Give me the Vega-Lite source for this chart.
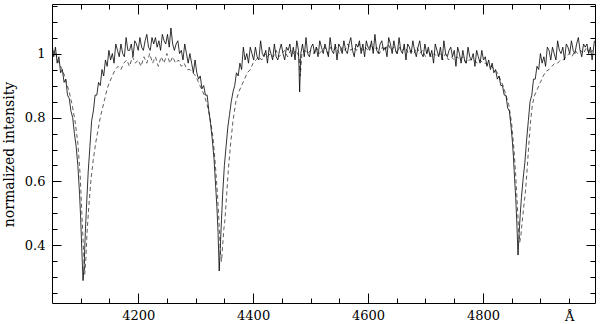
{
  "$schema": "https://vega.github.io/schema/vega-lite/v6.json",
  "width": 543,
  "height": 299,
  "autosize": "none",
  "padding": {"left": 52, "top": 4, "right": 5, "bottom": 21},
  "background": "white",
  "config": {
    "view": {"stroke": "black", "strokeWidth": 1},
    "axis": {"grid": false, "domain": false, "tickColor": "black", "tickWidth": 1, "labelColor": "black", "labelFont": "DejaVu Serif", "labelFontSize": 13, "titleFont": "DejaVu Serif", "titleFontWeight": "normal", "titleColor": "black"}
  },
  "resolve": {"axis": {"x": "independent", "y": "independent"}},
  "layer": [
    {
      "data": {"values": [
{"w":4050,"f":1.00},{"w":4055,"f":1.01},{"w":4060,"f":0.98},{"w":4065,"f":0.96},{"w":4070,"f":0.94},{"w":4075,"f":0.91},{"w":4080,"f":0.88},{"w":4085,"f":0.84},{"w":4090,"f":0.79},{"w":4095,"f":0.72},{"w":4099,"f":0.62},{"w":4102,"f":0.50},{"w":4105,"f":0.38},{"w":4107,"f":0.31},{"w":4109,"f":0.36},{"w":4111,"f":0.44},{"w":4114,"f":0.52},{"w":4118,"f":0.61},{"w":4122,"f":0.67},{"w":4126,"f":0.72},{"w":4130,"f":0.76},{"w":4134,"f":0.80},{"w":4138,"f":0.83},{"w":4142,"f":0.86},{"w":4146,"f":0.89},{"w":4150,"f":0.91},{"w":4155,"f":0.93},{"w":4160,"f":0.95},{"w":4165,"f":0.96},{"w":4170,"f":0.95},{"w":4175,"f":0.97},{"w":4180,"f":0.98},{"w":4185,"f":0.96},{"w":4190,"f":0.99},{"w":4195,"f":0.97},{"w":4200,"f":0.98},{"w":4205,"f":0.96},{"w":4210,"f":0.99},{"w":4215,"f":0.97},{"w":4220,"f":1.00},{"w":4225,"f":0.97},{"w":4230,"f":0.99},{"w":4235,"f":0.96},{"w":4240,"f":0.99},{"w":4245,"f":0.97},{"w":4250,"f":1.00},{"w":4255,"f":0.97},{"w":4260,"f":0.99},{"w":4265,"f":0.97},{"w":4270,"f":0.98},{"w":4275,"f":0.96},{"w":4280,"f":0.97},{"w":4285,"f":0.95},{"w":4290,"f":0.95},{"w":4295,"f":0.94},{"w":4300,"f":0.93},{"w":4305,"f":0.91},{"w":4310,"f":0.89},{"w":4315,"f":0.87},{"w":4320,"f":0.84},{"w":4325,"f":0.80},{"w":4330,"f":0.74},{"w":4334,"f":0.66},{"w":4338,"f":0.56},{"w":4341,"f":0.46},{"w":4343,"f":0.38},{"w":4345,"f":0.35},{"w":4347,"f":0.40},{"w":4349,"f":0.45},{"w":4351,"f":0.48},{"w":4354,"f":0.56},{"w":4357,"f":0.64},{"w":4361,"f":0.72},{"w":4365,"f":0.79},{"w":4370,"f":0.85},{"w":4375,"f":0.88},{"w":4380,"f":0.90},{"w":4385,"f":0.92},{"w":4390,"f":0.94},{"w":4395,"f":0.95},{"w":4400,"f":0.97},{"w":4405,"f":0.98},{"w":4410,"f":0.99},{"w":4415,"f":0.98},{"w":4420,"f":1.00},{"w":4425,"f":0.99},{"w":4430,"f":1.00},{"w":4435,"f":0.99},{"w":4440,"f":1.01},{"w":4445,"f":0.99},{"w":4450,"f":1.00},{"w":4455,"f":1.01},{"w":4460,"f":0.99},{"w":4465,"f":1.01},{"w":4470,"f":1.00},{"w":4475,"f":1.01},{"w":4480,"f":0.99},{"w":4482,"f":0.93},{"w":4485,"f":1.00},{"w":4490,"f":1.01},{"w":4495,"f":1.00},{"w":4500,"f":1.01},{"w":4505,"f":1.00},{"w":4510,"f":1.02},{"w":4515,"f":1.00},{"w":4520,"f":1.01},{"w":4525,"f":1.02},{"w":4530,"f":1.00},{"w":4535,"f":1.02},{"w":4540,"f":1.01},{"w":4545,"f":1.02},{"w":4550,"f":1.00},{"w":4555,"f":1.02},{"w":4560,"f":1.01},{"w":4565,"f":1.03},{"w":4570,"f":1.01},{"w":4575,"f":1.02},{"w":4580,"f":1.01},{"w":4585,"f":1.03},{"w":4590,"f":1.01},{"w":4595,"f":1.02},{"w":4600,"f":1.01},{"w":4605,"f":1.03},{"w":4610,"f":1.01},{"w":4615,"f":1.02},{"w":4620,"f":1.00},{"w":4625,"f":1.02},{"w":4630,"f":1.01},{"w":4635,"f":1.03},{"w":4640,"f":1.01},{"w":4645,"f":1.02},{"w":4650,"f":1.00},{"w":4655,"f":1.02},{"w":4660,"f":1.01},{"w":4665,"f":1.02},{"w":4670,"f":1.00},{"w":4675,"f":1.01},{"w":4680,"f":1.00},{"w":4685,"f":1.02},{"w":4690,"f":1.00},{"w":4695,"f":1.01},{"w":4700,"f":0.99},{"w":4705,"f":1.01},{"w":4710,"f":0.99},{"w":4715,"f":1.00},{"w":4720,"f":0.99},{"w":4725,"f":1.00},{"w":4730,"f":0.98},{"w":4735,"f":1.00},{"w":4740,"f":0.98},{"w":4745,"f":0.99},{"w":4750,"f":0.98},{"w":4755,"f":0.99},{"w":4760,"f":0.98},{"w":4765,"f":0.99},{"w":4770,"f":0.97},{"w":4775,"f":0.98},{"w":4780,"f":0.98},{"w":4785,"f":0.98},{"w":4790,"f":0.97},{"w":4795,"f":0.98},{"w":4800,"f":0.97},{"w":4805,"f":0.97},{"w":4810,"f":0.96},{"w":4815,"f":0.96},{"w":4820,"f":0.95},{"w":4825,"f":0.94},{"w":4830,"f":0.92},{"w":4835,"f":0.90},{"w":4840,"f":0.87},{"w":4845,"f":0.84},{"w":4850,"f":0.78},{"w":4854,"f":0.70},{"w":4857,"f":0.62},{"w":4860,"f":0.52},{"w":4862,"f":0.45},{"w":4864,"f":0.41},{"w":4866,"f":0.43},{"w":4868,"f":0.47},{"w":4871,"f":0.52},{"w":4874,"f":0.57},{"w":4877,"f":0.64},{"w":4880,"f":0.72},{"w":4883,"f":0.79},{"w":4886,"f":0.84},{"w":4890,"f":0.87},{"w":4895,"f":0.89},{"w":4900,"f":0.91},{"w":4905,"f":0.93},{"w":4910,"f":0.945},{"w":4915,"f":0.95},{"w":4920,"f":0.96},{"w":4925,"f":0.97},{"w":4930,"f":0.97},{"w":4935,"f":0.98},{"w":4940,"f":0.98},{"w":4945,"f":0.99},{"w":4950,"f":1.00},{"w":4955,"f":0.99},{"w":4960,"f":1.01},{"w":4965,"f":1.00},{"w":4970,"f":1.01},{"w":4975,"f":1.00},{"w":4980,"f":1.02},{"w":4985,"f":1.00},{"w":4990,"f":1.01},{"w":4994,"f":1.00}
      ]},
      "mark": {"type": "line", "color": "#333333", "strokeWidth": 0.8, "strokeDash": [4, 3], "clip": true},
      "encoding": {
        "x": {"field": "w", "type": "quantitative", "scale": {"domain": [4050, 4995], "nice": false, "zero": false},
          "axis": {"orient": "top", "title": null, "values": [4100,4150,4200,4250,4300,4350,4400,4450,4500,4550,4600,4650,4700,4750,4800,4850,4900,4950], "labels": false,
            "tickSize": {"condition": {"test": "datum.value % 200 == 0", "value": -10}, "value": -5}}},
        "y": {"field": "f", "type": "quantitative", "scale": {"domain": [0.22, 1.155], "nice": false, "zero": false},
          "axis": {"orient": "right", "title": null, "values": [0.25,0.3,0.35,0.4,0.45,0.5,0.55,0.6,0.65,0.7,0.75,0.8,0.85,0.9,0.95,1,1.05,1.1,1.15], "labels": false,
            "tickSize": {"condition": {"test": "indexof([0.4,0.6,0.8,1],datum.value) >= 0", "value": -9}, "value": -5}}}
      }
    },
    {
      "data": {"values": [
{"w":4050,"f":1.03},{"w":4053,"f":0.99},{"w":4056,"f":1.02},{"w":4059,"f":0.97},{"w":4062,"f":0.99},{"w":4065,"f":0.94},{"w":4068,"f":0.95},{"w":4071,"f":0.91},{"w":4074,"f":0.92},{"w":4077,"f":0.87},{"w":4080,"f":0.86},{"w":4083,"f":0.82},{"w":4086,"f":0.80},{"w":4089,"f":0.75},{"w":4092,"f":0.71},{"w":4095,"f":0.65},{"w":4098,"f":0.56},{"w":4100,"f":0.48},{"w":4102,"f":0.38},{"w":4104,"f":0.29},{"w":4106,"f":0.34},{"w":4108,"f":0.44},{"w":4110,"f":0.52},{"w":4113,"f":0.63},{"w":4116,"f":0.71},{"w":4119,"f":0.79},{"w":4122,"f":0.82},{"w":4125,"f":0.87},{"w":4128,"f":0.87},{"w":4131,"f":0.91},{"w":4134,"f":0.90},{"w":4137,"f":0.95},{"w":4140,"f":0.93},{"w":4143,"f":0.98},{"w":4146,"f":0.96},
{"w":4149,"f":1.01},{"w":4152,"f":0.98},{"w":4155,"f":1.00},{"w":4158,"f":0.97},{"w":4161,"f":1.03},{"w":4164,"f":1.01},{"w":4167,"f":0.99},{"w":4170,"f":1.03},{"w":4173,"f":1.00},{"w":4176,"f":0.99},{"w":4179,"f":1.05},{"w":4182,"f":1.01},{"w":4185,"f":1.01},{"w":4188,"f":1.03},{"w":4191,"f":0.99},{"w":4194,"f":1.04},{"w":4197,"f":1.03},{"w":4200,"f":1.01},{"w":4203,"f":1.05},{"w":4206,"f":1.02},{"w":4209,"f":1.01},{"w":4212,"f":1.04},{"w":4215,"f":1.06},{"w":4218,"f":1.02},{"w":4221,"f":1.01},{"w":4224,"f":1.05},{"w":4227,"f":1.03},{"w":4230,"f":1.05},{"w":4233,"f":1.02},{"w":4236,"f":1.04},{"w":4239,"f":1.01},{"w":4242,"f":1.06},{"w":4245,"f":1.04},{"w":4248,"f":1.03},{"w":4251,"f":1.06},{"w":4254,"f":1.02},{"w":4257,"f":1.08},{"w":4260,"f":1.03},{"w":4263,"f":1.01},{"w":4266,"f":1.03},{"w":4269,"f":1.04},{"w":4272,"f":1.00},{"w":4275,"f":1.01},{"w":4278,"f":0.98},{"w":4281,"f":1.03},{"w":4284,"f":1.00},{"w":4287,"f":0.97},{"w":4290,"f":1.00},{"w":4293,"f":0.97},{"w":4296,"f":0.94},{"w":4299,"f":0.98},{"w":4302,"f":0.94},{"w":4305,"f":0.92},{"w":4308,"f":0.93},{"w":4311,"f":0.89},{"w":4314,"f":0.90},{"w":4317,"f":0.87},{"w":4320,"f":0.87},
{"w":4323,"f":0.82},{"w":4326,"f":0.78},{"w":4329,"f":0.73},{"w":4332,"f":0.67},{"w":4335,"f":0.58},{"w":4337,"f":0.52},{"w":4339,"f":0.44},{"w":4341,"f":0.32},{"w":4343,"f":0.40},{"w":4345,"f":0.48},{"w":4347,"f":0.56},{"w":4350,"f":0.65},{"w":4353,"f":0.71},{"w":4356,"f":0.77},{"w":4359,"f":0.81},{"w":4362,"f":0.85},{"w":4365,"f":0.88},{"w":4368,"f":0.90},{"w":4371,"f":0.94},{"w":4374,"f":0.93},{"w":4377,"f":0.97},{"w":4380,"f":0.95},
{"w":4383,"f":1.02},{"w":4386,"f":0.98},{"w":4389,"f":1.00},{"w":4392,"f":0.97},{"w":4395,"f":1.02},{"w":4398,"f":1.00},{"w":4401,"f":0.98},{"w":4404,"f":1.02},{"w":4407,"f":0.99},{"w":4410,"f":0.98},{"w":4413,"f":1.04},{"w":4416,"f":1.00},{"w":4419,"f":0.99},{"w":4422,"f":1.01},{"w":4425,"f":0.97},{"w":4428,"f":1.02},{"w":4431,"f":1.00},{"w":4434,"f":0.98},{"w":4437,"f":1.03},{"w":4440,"f":0.99},{"w":4443,"f":0.98},{"w":4446,"f":1.01},{"w":4449,"f":1.03},{"w":4452,"f":1.00},{"w":4455,"f":0.98},{"w":4458,"f":1.02},{"w":4461,"f":1.01},{"w":4464,"f":1.03},{"w":4467,"f":0.99},{"w":4470,"f":1.02},{"w":4473,"f":0.98},{"w":4476,"f":1.04},{"w":4479,"f":1.01},{"w":4481,"f":0.88},{"w":4483,"f":1.00},{"w":4486,"f":1.03},{"w":4489,"f":0.99},{"w":4492,"f":1.05},{"w":4495,"f":1.00},{"w":4498,"f":0.99},{"w":4501,"f":1.02},
{"w":4504,"f":1.03},{"w":4507,"f":1.00},{"w":4510,"f":1.02},{"w":4513,"f":0.99},{"w":4516,"f":1.04},{"w":4519,"f":1.02},{"w":4522,"f":1.00},{"w":4525,"f":1.03},{"w":4528,"f":1.01},{"w":4531,"f":0.99},{"w":4534,"f":1.05},{"w":4537,"f":1.01},{"w":4540,"f":1.00},{"w":4543,"f":1.03},{"w":4546,"f":0.98},{"w":4549,"f":1.03},{"w":4552,"f":1.02},{"w":4555,"f":1.00},{"w":4558,"f":1.04},{"w":4561,"f":1.01},{"w":4564,"f":1.00},{"w":4567,"f":1.03},{"w":4570,"f":1.05},{"w":4573,"f":1.01},{"w":4576,"f":0.99},{"w":4579,"f":1.03},{"w":4582,"f":1.02},{"w":4585,"f":1.04},{"w":4588,"f":1.00},{"w":4591,"f":1.03},{"w":4594,"f":0.99},{"w":4597,"f":1.04},{"w":4600,"f":1.02},{"w":4603,"f":1.01},{"w":4606,"f":1.04},{"w":4609,"f":1.00},{"w":4612,"f":1.06},{"w":4615,"f":1.01},{"w":4618,"f":1.00},{"w":4621,"f":1.03},{"w":4624,"f":1.04},{"w":4627,"f":1.01},{"w":4630,"f":1.02},{"w":4633,"f":0.99},{"w":4636,"f":1.05},{"w":4639,"f":1.03},{"w":4642,"f":1.00},{"w":4645,"f":1.04},{"w":4648,"f":1.01},{"w":4651,"f":1.00},
{"w":4654,"f":1.05},{"w":4657,"f":1.01},{"w":4660,"f":1.00},{"w":4663,"f":1.03},{"w":4666,"f":0.98},{"w":4669,"f":1.03},{"w":4672,"f":1.02},{"w":4675,"f":1.00},{"w":4678,"f":1.04},{"w":4681,"f":1.01},{"w":4684,"f":0.99},{"w":4687,"f":1.02},{"w":4690,"f":1.04},{"w":4693,"f":1.00},{"w":4696,"f":0.99},{"w":4699,"f":1.03},{"w":4702,"f":1.00},{"w":4705,"f":1.02},{"w":4708,"f":0.99},{"w":4711,"f":1.01},{"w":4714,"f":0.97},{"w":4717,"f":1.03},{"w":4720,"f":1.01},{"w":4723,"f":0.99},{"w":4726,"f":1.02},{"w":4729,"f":0.98},{"w":4732,"f":1.04},{"w":4735,"f":1.00},{"w":4738,"f":0.99},{"w":4741,"f":1.01},{"w":4744,"f":1.02},{"w":4747,"f":0.99},{"w":4750,"f":1.01},{"w":4753,"f":0.96},{"w":4756,"f":1.02},{"w":4759,"f":1.00},{"w":4762,"f":0.97},{"w":4765,"f":1.01},{"w":4768,"f":0.98},{"w":4771,"f":0.97},{"w":4774,"f":1.02},{"w":4777,"f":0.99},{"w":4780,"f":0.98},{"w":4783,"f":1.00},{"w":4786,"f":0.96},{"w":4789,"f":1.01},{"w":4792,"f":0.99},{"w":4795,"f":0.97},{"w":4798,"f":1.01},{"w":4801,"f":0.98},
{"w":4804,"f":0.99},{"w":4807,"f":0.96},{"w":4810,"f":0.98},{"w":4813,"f":0.95},{"w":4816,"f":0.97},{"w":4819,"f":0.94},{"w":4822,"f":0.95},{"w":4825,"f":0.92},{"w":4828,"f":0.93},{"w":4831,"f":0.90},{"w":4834,"f":0.90},{"w":4837,"f":0.87},{"w":4840,"f":0.87},{"w":4843,"f":0.83},{"w":4846,"f":0.82},{"w":4849,"f":0.77},{"w":4851,"f":0.73},{"w":4853,"f":0.68},{"w":4855,"f":0.61},{"w":4857,"f":0.55},{"w":4859,"f":0.47},{"w":4861,"f":0.37},{"w":4863,"f":0.44},{"w":4865,"f":0.50},{"w":4867,"f":0.55},{"w":4870,"f":0.61},{"w":4873,"f":0.66},{"w":4876,"f":0.73},{"w":4879,"f":0.79},{"w":4882,"f":0.85},{"w":4885,"f":0.87},{"w":4888,"f":0.92},{"w":4891,"f":0.92},{"w":4894,"f":0.96},{"w":4897,"f":0.95},
{"w":4900,"f":1.00},{"w":4903,"f":0.97},{"w":4906,"f":0.99},{"w":4909,"f":0.96},{"w":4912,"f":1.02},{"w":4915,"f":1.01},{"w":4918,"f":0.98},{"w":4921,"f":1.02},{"w":4924,"f":1.00},{"w":4927,"f":0.98},{"w":4930,"f":1.04},{"w":4933,"f":1.01},{"w":4936,"f":1.00},{"w":4939,"f":1.02},{"w":4942,"f":0.98},{"w":4945,"f":1.03},{"w":4948,"f":1.02},{"w":4951,"f":1.00},{"w":4954,"f":1.04},{"w":4957,"f":1.01},{"w":4960,"f":1.00},{"w":4963,"f":1.03},{"w":4966,"f":1.05},{"w":4969,"f":1.01},{"w":4972,"f":0.99},{"w":4975,"f":1.03},{"w":4978,"f":1.02},{"w":4981,"f":1.03},{"w":4984,"f":1.00},{"w":4987,"f":1.02},{"w":4990,"f":0.98},{"w":4994,"f":1.04}
      ]},
      "mark": {"type": "line", "color": "black", "strokeWidth": 0.8, "clip": true},
      "encoding": {
        "x": {"field": "w", "type": "quantitative", "scale": {"domain": [4050, 4995], "nice": false, "zero": false},
          "axis": {"orient": "bottom", "title": null, "values": [4100,4150,4200,4250,4300,4350,4400,4450,4500,4550,4600,4650,4700,4750,4800,4850,4900,4950],
            "labelExpr": "datum.value == 4950 ? 'Å' : (datum.value % 200 == 0 ? format(datum.value, 'd') : '')",
            "labelPadding": {"condition": {"test": "datum.value == 4950", "value": 12}, "value": 16}, "labelBound": false, "labelOverlap": false,
            "tickSize": {"condition": {"test": "datum.value % 200 == 0", "value": -10}, "value": -5}}},
        "y": {"field": "f", "type": "quantitative", "scale": {"domain": [0.22, 1.155], "nice": false, "zero": false},
          "axis": {"orient": "left", "title": "normalized intensity", "titleFontSize": 14, "titleBaseline": "middle", "values": [0.25,0.3,0.35,0.4,0.45,0.5,0.55,0.6,0.65,0.7,0.75,0.8,0.85,0.9,0.95,1,1.05,1.1,1.15],
            "labelExpr": "datum.value == 1 ? '1' : (indexof([0.4,0.6,0.8], datum.value) >= 0 ? format(datum.value, '.1f') : '')",
            "labelPadding": 16, "labelOverlap": false, "labelBound": false, "titleX": -43, "titleY": 150,
            "tickSize": {"condition": {"test": "indexof([0.4,0.6,0.8,1],datum.value) >= 0", "value": -9}, "value": -5}}}
      }
    }
  ]
}
